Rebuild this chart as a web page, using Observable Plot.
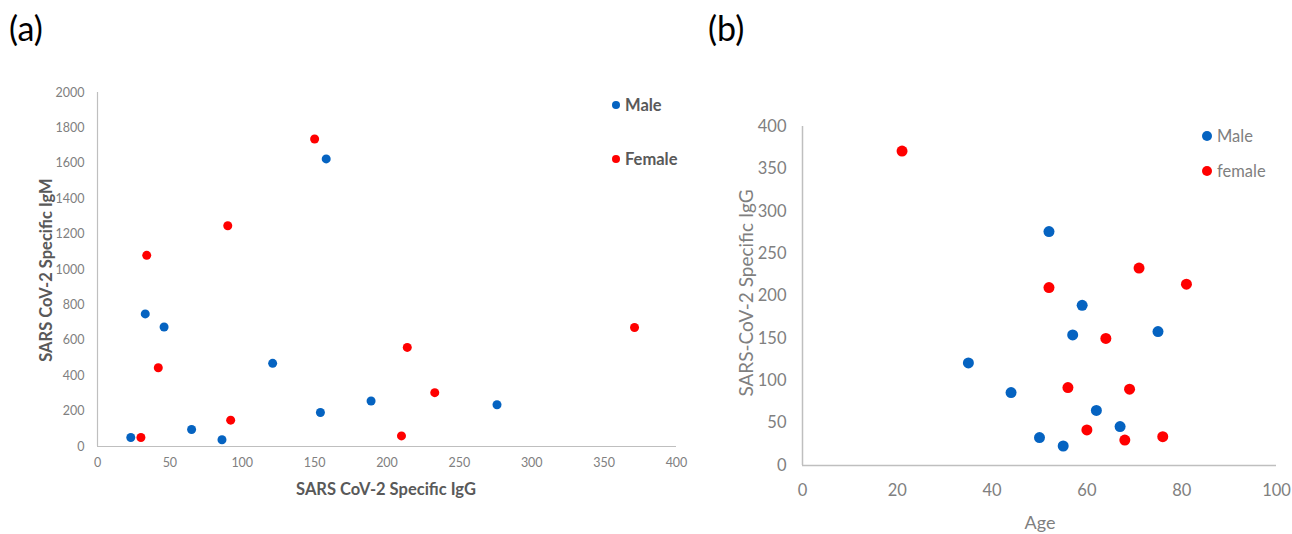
<!DOCTYPE html>
<html><head><meta charset="utf-8">
<script src="https://cdn.jsdelivr.net/npm/d3@7"></script>
<script src="https://cdn.jsdelivr.net/npm/@observablehq/plot@0.6"></script>
<style>
body{margin:0;background:#fff;font-family:Lato,"Open Sans",sans-serif}
#wrap{position:relative;width:1292px;height:534px;overflow:hidden}
#wrap svg{position:absolute;top:0}
.t{position:absolute;white-space:nowrap;transform:translate(-50%,-50%)}
.rot{transform:translate(-50%,-50%) rotate(-90deg)}
.lab{position:absolute;font-size:34px;color:#000;line-height:1}
.leg{position:absolute;display:flex;align-items:center;white-space:nowrap}
.leg i{display:inline-block;border-radius:50%;margin-right:5px}
</style></head>
<body><div id="wrap"></div>
<script>
// Panel (a): IgG vs IgM
const maleIgG   = [23, 33, 46, 65, 86, 121, 154, 158, 189, 276];
const maleIgM   = [51, 749, 675, 96, 38, 470, 192, 1625, 257, 236];
const femaleIgG = [30, 34, 42, 90, 92, 150, 210, 214, 233, 371];
const femaleIgM = [51, 1080, 445, 1247, 149, 1737, 60, 560, 304, 672];
const xTicksA = [0, 50, 100, 150, 200, 250, 300, 350, 400];
const yTicksA = [0, 200, 400, 600, 800, 1000, 1200, 1400, 1600, 1800, 2000];

// Panel (b): Age vs IgG
const maleAge    = [35, 44, 50, 52, 55, 57, 59, 62, 67, 75];
const maleIgGb   = [121, 86, 33, 276, 23, 154, 189, 65, 46, 158];
const femaleAge  = [21, 52, 56, 60, 64, 68, 69, 71, 76, 81];
const femaleIgGb = [371, 210, 92, 42, 150, 30, 90, 233, 34, 214];
const xTicksB = [0, 20, 40, 60, 80, 100];
const yTicksB = [0, 50, 100, 150, 200, 250, 300, 350, 400];

const BLUE = "#0563c1", RED = "#ff0000";
const rowsA = [
  ...maleIgG.map((v, i) => ({x: v, y: maleIgM[i], s: "Male"})),
  ...femaleIgG.map((v, i) => ({x: v, y: femaleIgM[i], s: "Female"}))
];
const rowsB = [
  ...maleAge.map((v, i) => ({x: v, y: maleIgGb[i], s: "Male"})),
  ...femaleAge.map((v, i) => ({x: v, y: femaleIgGb[i], s: "female"}))
];
const fmt = d3.format("d");
const wrap = document.getElementById("wrap");

const a = Plot.plot({
  width: 700, height: 534,
  marginLeft: 97, marginRight: 24, marginTop: 92, marginBottom: 88,
  style: {fontFamily: "Lato, 'Open Sans', sans-serif", fontSize: "12.5px", color: "#808080", background: "transparent", overflow: "visible"},
  x: {domain: [0, 400]},
  y: {domain: [0, 2000]},
  color: {domain: ["Male", "Female"], range: [BLUE, RED]},
  marks: [
    Plot.axisX({ticks: xTicksA, tickFormat: fmt, tickSize: 0, tickPadding: 12, label: null, fill: "#808080"}),
    Plot.axisY({ticks: yTicksA, tickFormat: fmt, tickSize: 0, tickPadding: 13, label: null, fill: "#808080"}),
    Plot.ruleX([0], {stroke: "#bfbfbf", strokeWidth: 1.2}),
    Plot.ruleY([0], {stroke: "#bfbfbf", strokeWidth: 1.2}),
    Plot.dot(rowsA, {x: "x", y: "y", fill: "s", r: 4.5})
  ]
});
a.style.left = "0px";
wrap.appendChild(a);

const b = Plot.plot({
  width: 592, height: 534,
  marginLeft: 102, marginRight: 16, marginTop: 126, marginBottom: 69,
  style: {fontFamily: "Lato, 'Open Sans', sans-serif", fontSize: "16.5px", color: "#808080", background: "transparent", overflow: "visible"},
  x: {domain: [0, 100]},
  y: {domain: [0, 400]},
  color: {domain: ["Male", "female"], range: [BLUE, RED]},
  marks: [
    Plot.axisX({ticks: xTicksB, tickFormat: fmt, tickSize: 0, tickPadding: 19, label: null, fill: "#808080"}),
    Plot.axisY({ticks: yTicksB, tickFormat: fmt, tickSize: 0, tickPadding: 16, label: null, fill: "#808080"}),
    Plot.ruleX([0], {stroke: "#bfbfbf", strokeWidth: 1.5}),
    Plot.ruleY([0], {stroke: "#bfbfbf", strokeWidth: 1.5}),
    Plot.dot(rowsB, {x: "x", y: "y", fill: "s", r: 5.5})
  ]
});
b.style.left = "700px";
wrap.appendChild(b);

function add(html) { wrap.insertAdjacentHTML("beforeend", html); }
add(`<div class="lab" style="left:9px;top:11px">(a)</div>`);
add(`<div class="lab" style="left:708px;top:11px">(b)</div>`);
add(`<div class="t" style="left:386px;top:489px;font-size:16.5px;font-weight:bold;color:#595959">SARS CoV-2 Specific IgG</div>`);
add(`<div class="t rot" style="left:46px;top:270px;font-size:16.5px;font-weight:bold;color:#595959">SARS CoV-2 Specific IgM</div>`);
add(`<div class="t" style="left:1040px;top:522px;font-size:18px;color:#7f7f7f">Age</div>`);
add(`<div class="t rot" style="left:745px;top:293px;font-size:19px;color:#7f7f7f">SARS-CoV-2 Specific IgG</div>`);
add(`<div class="leg" style="left:612px;top:95px;font-size:16.5px;font-weight:bold;color:#595959"><i style="width:8px;height:8px;background:${BLUE}"></i>Male</div>`);
add(`<div class="leg" style="left:612px;top:149px;font-size:16.5px;font-weight:bold;color:#595959"><i style="width:8px;height:8px;background:${RED}"></i>Female</div>`);
add(`<div class="leg" style="left:1202px;top:126px;font-size:16.5px;color:#7f7f7f"><i style="width:10px;height:10px;background:${BLUE}"></i>Male</div>`);
add(`<div class="leg" style="left:1202px;top:161px;font-size:16.5px;color:#7f7f7f"><i style="width:10px;height:10px;background:${RED}"></i>female</div>`);
</script>
</body></html>
